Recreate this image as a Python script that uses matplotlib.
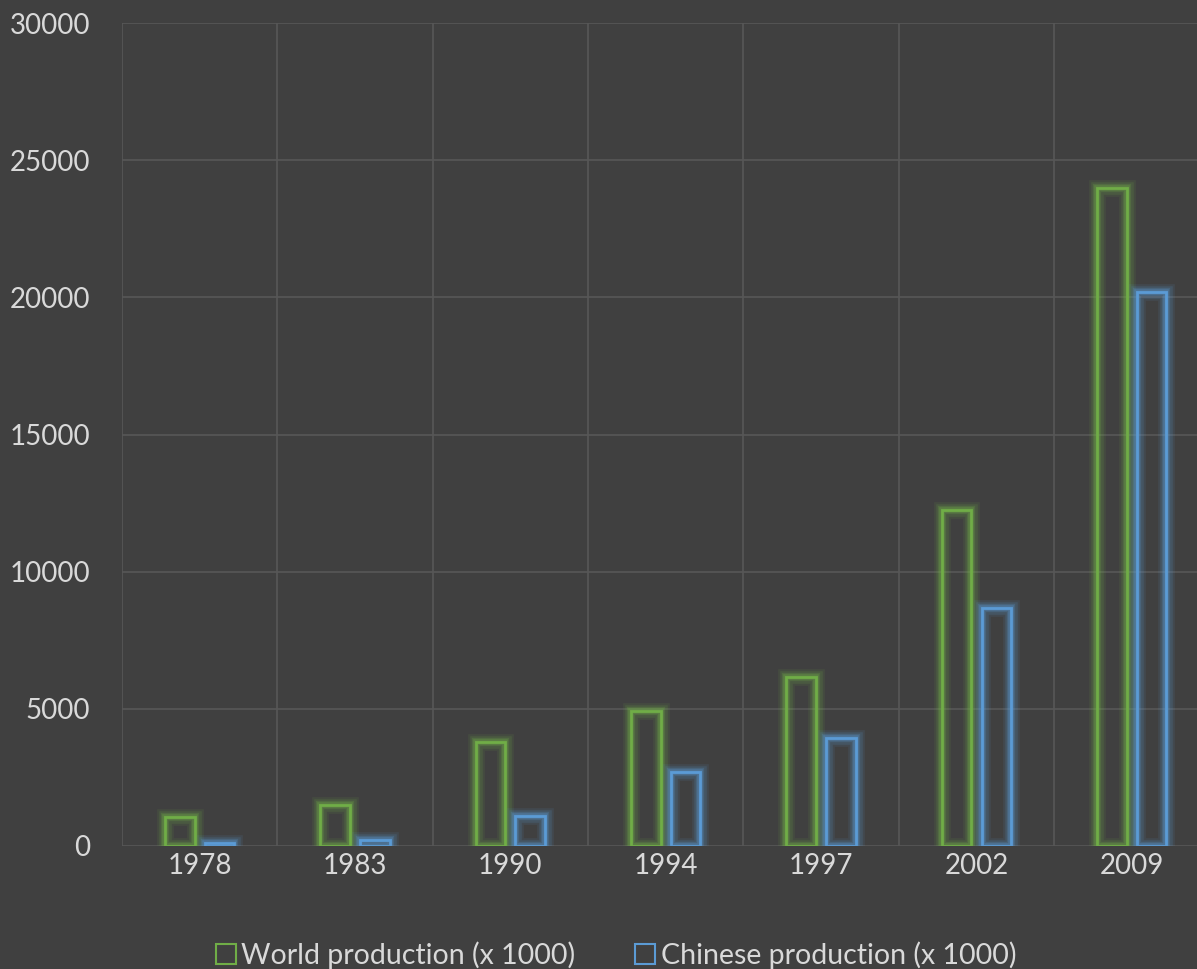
import numpy as np
import matplotlib.pyplot as plt
from matplotlib.patches import Patch

plt.rcParams['font.family'] = ['Lato', 'DejaVu Sans']

years = ['1978', '1983', '1990', '1994', '1997', '2002', '2009']
world = [1060, 1500, 3790, 4920, 6160, 12250, 23990]
chinese = [110, 220, 1090, 2700, 3940, 8680, 20200]

bg = '#404040'
green = '#70ad47'
blue = '#5b9bd5'
txt = '#d9d9d9'

fig = plt.figure(figsize=(11.97, 9.69), dpi=100, facecolor=bg)
ax = fig.add_axes([0.1019, 0.127, 0.9085, 0.849], facecolor=bg)

x = np.arange(len(years))
w = 0.19
off = 0.128

for vals, col, dx in [(world, green, -off), (chinese, blue, off)]:
    # soft glow under the outline
    for lw, a in [(12, 0.10), (9, 0.15), (6, 0.22), (4, 0.3)]:
        ax.bar(x + dx, vals, w, facecolor='none', edgecolor=col, linewidth=lw, alpha=a, zorder=2)
    ax.bar(x + dx, vals, w, facecolor='none', edgecolor=col, linewidth=2, zorder=3)

ax.set_xlim(-0.5, 6.5)
ax.set_ylim(0, 30000)
ax.set_yticks(range(0, 30001, 5000))
ax.set_xticks(x)
ax.set_xticklabels(years)
ax.set_xticks(np.arange(-0.5, 7, 1), minor=True)

ax.grid(axis='y', color='#575757', linewidth=1.2, zorder=0)
ax.grid(axis='x', which='minor', color='#575757', linewidth=1.2, zorder=0)
ax.tick_params(axis='both', which='both', length=0, colors=txt, labelsize=20)
ax.tick_params(axis='y', pad=23)
ax.tick_params(axis='x', pad=5)
for s in ax.spines.values():
    s.set_visible(False)

handles = [Patch(facecolor='none', edgecolor=green, linewidth=1.5, label='World production (x 1000)'),
           Patch(facecolor='none', edgecolor=blue, linewidth=1.5, label='Chinese production (x 1000)')]
fig.legend(handles=handles, loc='lower center', bbox_to_anchor=(0.5146, -0.026), ncol=2, frameon=False,
           fontsize=20.5, labelcolor=txt, handlelength=0.7, handleheight=0.7, handletextpad=0.2,
           columnspacing=2.1)

fig.savefig('out.png', dpi=100, facecolor=bg)
